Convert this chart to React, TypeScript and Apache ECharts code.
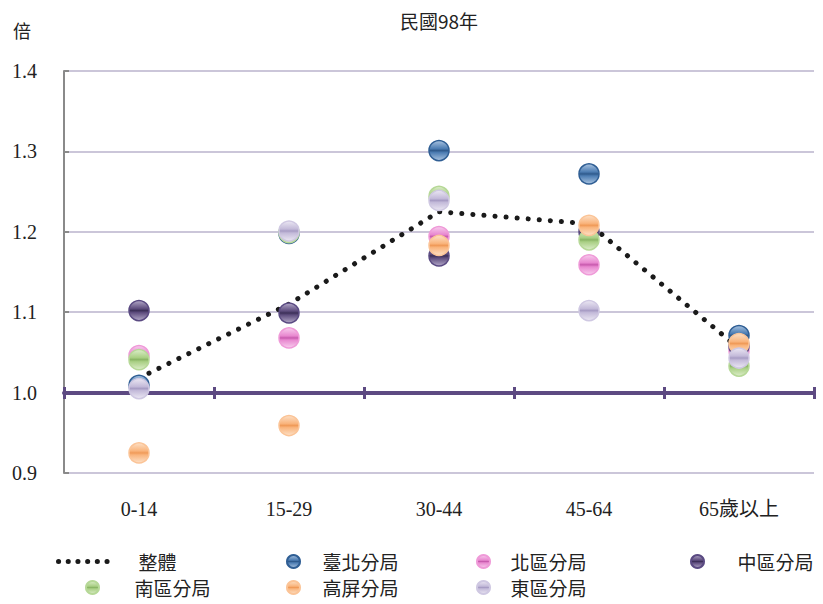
import React, { useEffect, useRef } from "react";
import * as echarts from "echarts";

const categories = ["0-14", "15-29", "30-44", "45-64", "65歲以上"];
const overall = [1.018, 1.11, 1.225, 1.21, 1.055];
const taipei = [1.009, 1.198, 1.301, 1.272, 1.071];
const north = [1.046, 1.068, 1.194, 1.159, 1.052];
const central = [1.102, 1.099, 1.17, 1.2, 1.058];
const south = [1.041, 1.199, 1.244, 1.19, 1.033];
const kaoping = [0.925, 0.959, 1.183, 1.208, 1.061];
const east = [1.005, 1.201, 1.239, 1.102, 1.043];

const serif = "'Liberation Serif', 'Noto Sans CJK TC', serif";
const cjk = "'Noto Sans CJK TC', 'Liberation Serif', serif";

function glossy(base: string, light: string, dark: string) {
  return {
    type: "linear",
    x: 0,
    y: 0,
    x2: 0,
    y2: 1,
    colorStops: [
      { offset: 0, color: light },
      { offset: 0.4, color: base },
      { offset: 0.5, color: dark },
      { offset: 0.6, color: base },
      { offset: 1, color: light },
    ],
  };
}

const markerSeries = [
  { name: "臺北分局", data: taipei, base: "#4d7db3", light: "#a9c3e0", dark: "#2f5a8c", border: "#2f5e94" },
  { name: "北區分局", data: north, base: "#e887cf", light: "#f8cdee", dark: "#c85aae", border: "#ef9ad8" },
  { name: "中區分局", data: central, base: "#5e4d7e", light: "#b3a8c8", dark: "#3c2f58", border: "#5a4a82" },
  { name: "南區分局", data: south, base: "#a9cf84", light: "#dcedc9", dark: "#8ab565", border: "#b6d897" },
  { name: "高屏分局", data: kaoping, base: "#f9b47c", light: "#fde0c6", dark: "#f09a58", border: "#fbc497" },
  { name: "東區分局", data: east, base: "#c3bad9", light: "#ebe7f3", dark: "#a79cc4", border: "#cfc8e2" },
];

export default function App() {
  const ref = useRef<HTMLDivElement>(null);
  useEffect(() => {
    if (!ref.current) return;
    const chart = echarts.init(ref.current, undefined, { renderer: "svg" });

    const legendPos = [
      { name: "整體", left: 56, top: 552, pad: 21, w: 54 },
      { name: "臺北分局", left: 286, top: 552, pad: 17, w: 14 },
      { name: "北區分局", left: 476, top: 552, pad: 15, w: 14 },
      { name: "中區分局", left: 690, top: 552, pad: 28, w: 14 },
      { name: "南區分局", left: 85, top: 578, pad: 30, w: 14 },
      { name: "高屏分局", left: 286, top: 578, pad: 17, w: 14 },
      { name: "東區分局", left: 476, top: 578, pad: 15, w: 14 },
    ];

    const option: any = {
      animation: false,
      backgroundColor: "#ffffff",
      graphic: [
        {
          type: "text",
          x: 439,
          y: 20,
          style: {
            text: "民國98年",
            font: `19px ${cjk}`,
            fill: "#222",
            align: "center",
            verticalAlign: "middle",
          },
        },
        {
          type: "text",
          left: 13,
          top: 21,
          style: { text: "倍", font: `18px ${cjk}`, fill: "#222" },
        },
      ],
      legend: legendPos.map((l) => ({
        data: [
          l.name === "整體"
            ? { name: l.name, itemStyle: { opacity: 0 } }
            : { name: l.name, icon: "circle" },
        ],
        left: l.left,
        top: l.top,
        padding: 0,
        itemWidth: l.w,
        itemHeight: 13,
        lineStyle: { color: "#1a1a1a", width: 5, type: [0.1, 9.6], cap: "round" },
        textStyle: {
          fontFamily: cjk,
          fontSize: 19,
          color: "#222",
          padding: [0, 0, 0, l.pad],
        },
        selectedMode: false,
      })),
      grid: { left: 64, right: 9, top: 71, bottom: 131 },
      xAxis: [
        {
          type: "category",
          data: categories,
          position: "bottom",
          axisLine: { show: false },
          axisTick: { show: false },
          axisLabel: { fontFamily: serif, fontSize: 20, color: "#222", margin: 26 },
        },
        {
          type: "category",
          data: categories,
          position: "bottom",
          offset: -80,
          z: 5,
          axisLine: { show: true, lineStyle: { color: "#5d4a82", width: 4 } },
          axisTick: { show: true, length: 6, lineStyle: { color: "#5d4a82", width: 3 } },
          axisLabel: { show: false },
        },
        {
          type: "category",
          data: categories,
          position: "bottom",
          offset: -80,
          z: 5,
          axisLine: { show: false },
          axisTick: { show: true, inside: true, length: 6, lineStyle: { color: "#5d4a82", width: 3 } },
          axisLabel: { show: false },
        },
      ],
      yAxis: {
        type: "value",
        min: 0.9,
        max: 1.4,
        interval: 0.1,
        axisLine: { show: true, lineStyle: { color: "#8a8a8a", width: 2 } },
        axisTick: { show: true, inside: true, length: 5, lineStyle: { color: "#8a8a8a", width: 2 } },
        splitLine: { show: true, lineStyle: { color: "#cbc6d9", width: 2 } },
        axisLabel: {
          fontFamily: serif,
          fontSize: 20,
          color: "#222",
          margin: 27,
          formatter: (v: number) => v.toFixed(1),
        },
      },
      series: [
        {
          name: "整體",
          type: "line",
          data: overall,
          symbol: "none",
          z: 1,
          itemStyle: { color: "#1a1a1a" },
          lineStyle: { color: "#1a1a1a", width: 5, type: [0.1, 11], cap: "round" },
        },
        ...markerSeries.map((s, i) => ({
          name: s.name,
          type: "scatter",
          data: s.data,
          symbol: "circle",
          symbolSize: 20,
          z: 3 + i,
          itemStyle: {
            color: glossy(s.base, s.light, s.dark),
            borderColor: s.border,
            borderWidth: 1.5,
            opacity: 1,
          },
        })),
      ],
    };
    chart.setOption(option);
    return () => chart.dispose();
  }, []);
  return (
    <div
      ref={ref}
      style={{ position: "fixed", left: 0, top: 0, width: 823, height: 604 }}
    />
  );
}
